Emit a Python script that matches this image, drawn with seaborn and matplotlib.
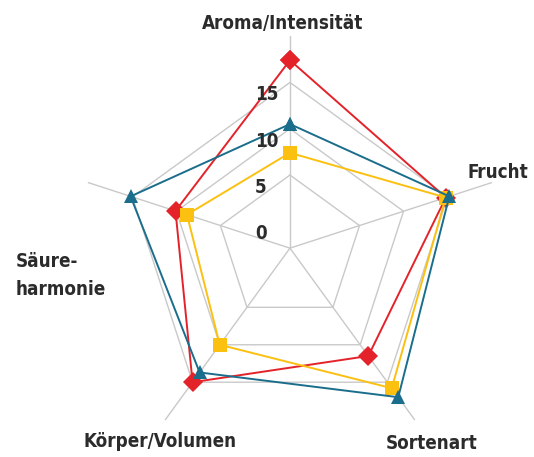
import numpy as np
import pandas as pd
import matplotlib
matplotlib.use('Agg')
import matplotlib.pyplot as plt
import seaborn as sns


# Data

categories = ['Aroma/Intensität', 'Frucht', 'Sortenart', 'Körper/Volumen', 'Säure-\nharmonie']
rot = [17.4, 14.8, 11.5, 15.0, 10.1]
gelb = [7.4, 14.8, 15.8, 10.0, 8.8]
blau = [10.5, 15.2, 17.0, 13.7, 15.2]
ring_values = [5, 10, 15]
tick_values = [0, 5, 10, 15]
tick_labels = ['0', '5', '10', '15']

R_MIN, R_MAX = -2.9, 20
COLORS = {'rot': '#e42229', 'gelb': '#fcc010', 'blau': '#1b6d8c'}
MARKERS = {'rot': 'D', 'gelb': 's', 'blau': '^'}
GRID = '#c9c9c9'
TEXT = '#2b2b2b'

# label placement relative to the spoke ends (points)
label_offsets = [(-5, 9.4), (4.3, 7.2), (12, -17), (-3.6, -16), (-52.6, -67)]
label_ha = ['center', 'center', 'center', 'center', 'left']


def _radar_frame(series: dict) -> pd.DataFrame:
    n = len(categories)
    angles = list(np.linspace(0, 2 * np.pi, n, endpoint=False)) + [2 * np.pi]
    rows = []
    for name, vals in series.items():
        for order, (a, v) in enumerate(zip(angles, vals + vals[:1])):
            rows.append({'serie': name, 'angle': a, 'wert': v, 'order': order})
    return pd.DataFrame(rows)


sns.set_style('white')
plt.rcParams['font.family'] = ['Liberation Sans Narrow', 'DejaVu Sans']
plt.rcParams['font.stretch'] = 'condensed'
FONT = dict(fontsize=13.5, fontweight='bold', fontstretch='condensed', color=TEXT)

fig = plt.figure(figsize=(5.34, 4.57), dpi=100)
ax = fig.add_axes([0.146, -0.007, 0.794, 0.928], projection='polar')
ax.set_theta_zero_location('N')
ax.set_theta_direction(-1)
ax.set_ylim(R_MIN, R_MAX)
ax.grid(False)
ax.spines['polar'].set_visible(False)
ax.set_xticks([])
ax.set_yticks([])
ax.patch.set_alpha(0)

angles = np.linspace(0, 2 * np.pi, len(categories), endpoint=False)
closed = list(angles) + [angles[0]]

# pentagon grid + spokes
for v in ring_values:
    ax.plot(closed, [v] * len(closed), color=GRID, lw=1.0, zorder=1)
for a in angles:
    ax.plot([a, a], [R_MIN, R_MAX], color=GRID, lw=1.0, zorder=1, clip_on=False)

df = _radar_frame({'rot': rot, 'gelb': gelb, 'blau': blau})
sns.lineplot(data=df, x='angle', y='wert', hue='serie', style='serie',
             hue_order=['rot', 'gelb', 'blau'], palette=COLORS, markers=MARKERS,
             dashes=False, sort=False, estimator=None, errorbar=None,
             lw=1.4, markersize=10, markeredgewidth=0, legend=False, ax=ax, zorder=3)
ax.set_xlabel('')
ax.set_ylabel('')
ax.set_ylim(R_MIN, R_MAX)

for v, lab in zip(tick_values, tick_labels):
    ax.annotate(lab, xy=(0, v), xytext=(-25, -9), textcoords='offset points',
                ha='left', va='center', **FONT)

for a, lab, off, ha in zip(angles, categories, label_offsets, label_ha):
    ax.annotate(lab, xy=(a, R_MAX), xytext=off, textcoords='offset points',
                ha=ha, va='center', linespacing=1.6, annotation_clip=False, **FONT)

fig.savefig('out.png', dpi=100)
